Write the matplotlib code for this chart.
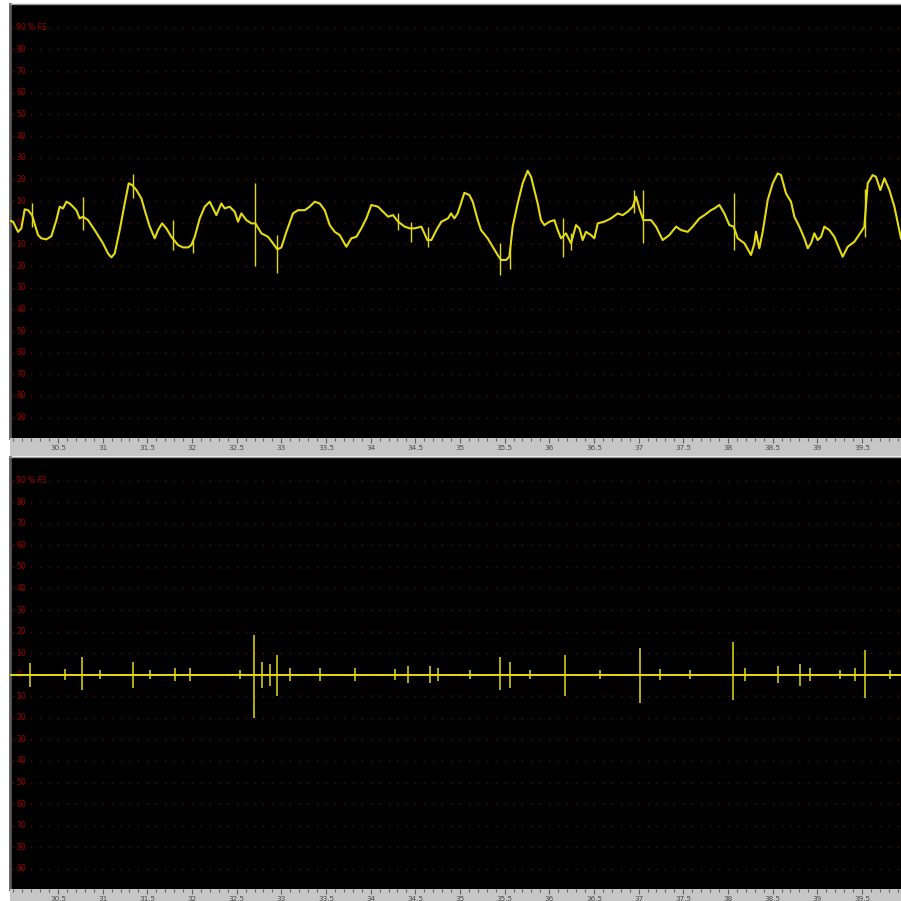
import numpy as np
import matplotlib
matplotlib.use("Agg")
import matplotlib.pyplot as plt
from matplotlib.transforms import blended_transform_factory

# raw channel, % of full scale over time (s)
raw_t = [29.941, 29.997, 30.053, 30.090, 30.128, 30.165, 30.210, 30.277, 30.314, 30.370,
         30.426, 30.482, 30.519, 30.557, 30.594, 30.631, 30.669, 30.706, 30.743, 30.781,
         30.837, 30.911, 31.004, 31.060, 31.098, 31.135, 31.191, 31.247, 31.292, 31.329,
         31.378, 31.434, 31.471, 31.527, 31.583, 31.620, 31.665, 31.713, 31.769, 31.844,
         31.900, 31.956, 31.993, 32.031, 32.087, 32.143, 32.199, 32.236, 32.273, 32.329,
         32.366, 32.422, 32.478, 32.516, 32.553, 32.609, 32.665, 32.710, 32.777, 32.851,
         32.907, 32.956, 33.001, 33.057, 33.131, 33.187, 33.262, 33.318, 33.374, 33.430,
         33.486, 33.542, 33.598, 33.654, 33.728, 33.784, 33.840, 33.896, 33.952, 34.008,
         34.083, 34.139, 34.195, 34.251, 34.307, 34.381, 34.437, 34.493, 34.568, 34.635,
         34.680, 34.736, 34.792, 34.866,
         34.900, 34.937, 34.975, 35.049, 35.105, 35.143, 35.199, 35.236, 35.310, 35.366,
         35.422, 35.460, 35.516, 35.553, 35.590, 35.646, 35.702, 35.758, 35.796, 35.833,
         35.870, 35.907, 35.945, 36.001, 36.057, 36.094, 36.131, 36.187, 36.243, 36.299,
         36.337, 36.374, 36.411, 36.467, 36.504, 36.542, 36.616, 36.691, 36.766, 36.822,
         36.878, 36.934, 36.971, 37.008, 37.053, 37.139, 37.195, 37.269, 37.344, 37.419,
         37.475, 37.549, 37.605, 37.680, 37.736, 37.810, 37.848, 37.904, 37.960, 38.016,
         38.064, 38.109, 38.184, 38.258, 38.296, 38.314, 38.351, 38.389, 38.445, 38.501,
         38.557, 38.594, 38.650, 38.706, 38.743, 38.799, 38.855, 38.893, 38.930, 38.967,
         39.004, 39.042, 39.079, 39.135, 39.191, 39.284, 39.340, 39.415, 39.490, 39.527,
         39.564, 39.620, 39.657, 39.706, 39.751, 39.807, 39.863, 39.937]
raw_v = [1.2, 0.5, -4.2, -2.6, 6.2, 5.8, 3.5, -5.7, -7.2, -7.7,
         -6.2, 1.2, 7.4, 6.6, 9.7, 8.9, 7.4, 5.8, 2.0, 2.8,
         1.2, -3.4, -9.5, -14.2, -16.0, -14.2, -3.4, 8.9, 18.2, 17.4,
         15.1, 11.2, 5.8, -1.8, -7.2, -3.4, -0.3, -2.6, -6.5, -10.3,
         -11.4, -11.4, -10.3, -6.5, 2.0, 7.4, 9.7, 6.6, 3.5, 8.9,
         6.6, 7.4, 5.1, 0.5, 4.3, 1.2, -0.3, -0.3, -4.9, -6.5,
         -9.5, -12.3, -11.4, -4.2, 4.3, 5.8, 5.8, 7.4, 9.7, 8.9,
         5.8, -1.1, -4.2, -5.7, -11.1, -7.2, -6.5, -2.6, 2.0, 8.2,
         7.4, 5.1, 2.8, 3.5, 0.5, -1.8, -2.6, -2.6, -1.8, -8.0,
         -8.0, -3.4, 0.5, 2.0,
         4.3, 2.0, 4.3, 13.8, 12.8, 9.7, 1.2, -3.4, -7.2, -11.1,
         -14.9, -17.2, -17.2, -15.7, -1.8, 8.9, 18.2, 24.0, 21.2, 15.1,
         8.9, 1.2, -1.1, 0.5, 1.2, -3.4, -7.2, -4.9, -9.5, -1.1,
         -2.6, -8.0, -4.2, -5.7, -7.2, -0.3, 0.5, 2.0, 4.3, 3.5,
         5.1, 7.4, 12.0, 6.6, 1.2, 1.2, -1.8, -8.0, -5.7, -1.8,
         -3.4, -4.2, -1.8, 2.0, 3.5, 5.8, 6.6, 8.2, 4.3, -1.1,
         -1.8, -7.2, -9.5, -14.9, -9.5, -4.2, -11.8, -4.2, 10.5, 18.2,
         22.8, 22.0, 13.5, 9.7, 2.8, -1.8, -7.2, -11.8, -9.5, -4.9,
         -8.0, -6.5, -1.8, -3.4, -6.5, -15.7, -11.1, -8.8, -4.2, -1.8,
         18.2, 22.0, 21.2, 15.1, 20.5, 15.1, 7.4, -7.2]

# single-sample glitches on the raw channel
glitch_t = [30.210, 30.781, 31.340, 31.788, 32.012, 32.710, 32.956, 34.307, 34.448, 34.642,
            35.452, 35.564, 36.150, 36.243, 36.945, 37.053, 38.064, 39.534]
glitch_lo = [-1.8, -3.4, 11.2, -12.6, -14.2, -20.0, -23.4, -3.4, -8.8, -11.1,
             -24.2, -21.5, -15.7, -12.6, 4.3, -9.5, -12.6, -6.5]
glitch_hi = [8.9, 12.0, 22.5, 1.2, -8.0, 18.2, -5.7, 4.3, 0.5, -1.8,
             -9.5, -11.1, 2.0, -4.9, 15.1, 15.1, 13.5, 15.8]

# filtered channel: bursts around the zero line
burst_t = [30.187, 30.579, 30.769, 30.970, 31.340, 31.530, 31.810, 31.978, 32.538, 32.694,
           32.784, 32.874, 32.952, 33.098, 33.433, 33.825, 34.273, 34.418, 34.665, 34.754,
           35.112, 35.448, 35.560, 35.784, 36.176, 36.568, 37.016, 37.240, 37.575, 38.057,
           38.191, 38.560, 38.807, 38.919, 39.255, 39.422, 39.534, 39.814]
burst_lo = [-5.5, -2.5, -7.0, -2.0, -6.0, -2.0, -3.0, -3.0, -2.0, -20.0,
            -6.0, -5.0, -10.0, -3.0, -3.0, -3.0, -2.5, -4.0, -4.0, -3.0,
            -2.0, -7.0, -6.0, -2.0, -10.0, -2.0, -13.0, -2.5, -2.0, -11.5,
            -3.0, -4.0, -5.0, -3.0, -2.0, -3.0, -10.6, -2.0]
burst_hi = [5.5, 2.5, 8.0, 2.0, 6.0, 2.0, 3.0, 3.0, 2.0, 18.5,
            6.0, 5.0, 9.0, 3.0, 3.0, 3.0, 2.5, 4.0, 4.0, 3.0,
            2.0, 8.0, 6.0, 2.0, 9.0, 2.0, 12.5, 2.5, 2.0, 15.0,
            3.0, 4.0, 5.0, 3.0, 2.0, 3.0, 11.5, 2.0]

time_ticks = [30.5, 31, 31.5, 32, 32.5, 33, 33.5, 34, 34.5, 35,
              35.5, 36, 36.5, 37, 37.5, 38, 38.5, 39, 39.5]
time_labels = ["30.5", "31", "31.5", "32", "32.5", "33", "33.5", "34", "34.5", "35",
               "35.5", "36", "36.5", "37", "37.5", "38", "38.5", "39", "39.5"]
levels = [90, 80, 70, 60, 50, 40, 30, 20, 10, 0, -10, -20, -30, -40, -50, -60, -70, -80, -90]
level_labels = ["90 % FS", "80", "70", "60", "50", "40", "30", "20", "10", "0",
                "10", "20", "30", "40", "50", "60", "70", "80", "90"]

XLIM = (29.963, 39.937)
YLIM = (-99.4, 101.0)
TRACE = "#e4dc10"
LABEL_RED = "#a00000"
DOT_RED = "#5c0808"
STRIP = "#c6c6c6"

W = H = 901.0
fig = plt.figure(figsize=(9.01, 9.01), dpi=100, facecolor="white")


def px_axes(top, bottom):
    return fig.add_axes([10 / W, 1 - bottom / H, 891 / W, (bottom - top) / H])


def scope_panel(ax):
    ax.set_facecolor("black")
    ax.set_xlim(*XLIM)
    ax.set_ylim(*YLIM)
    ax.set_xticks([])
    ax.set_yticks([])
    for side in ("right", "bottom"):
        ax.spines[side].set_visible(False)
    ax.spines["left"].set_color("#5a5a5a")
    ax.spines["left"].set_linewidth(2.0)
    ax.spines["top"].set_color("#9a9a9a")
    ax.spines["top"].set_linewidth(1.0)

    # dotted level lines, one dot per 0.1 s
    dot_x = np.arange(30.0, XLIM[1], 0.1)
    for lv in levels:
        ax.plot(dot_x, np.full_like(dot_x, lv), ls="none", marker="s",
                ms=1.1, mew=0, color=DOT_RED, zorder=1)

    trans = blended_transform_factory(ax.transAxes, ax.transData)
    for lv, lab in zip(levels, level_labels):
        ax.text(0.007, lv, lab, transform=trans, ha="left", va="center",
                fontsize=5.5, color=LABEL_RED, zorder=2)


def time_strip(ax):
    ax.set_facecolor(STRIP)
    ax.set_xlim(*XLIM)
    ax.set_ylim(0, 1)
    ax.set_yticks([])
    for sp in ax.spines.values():
        sp.set_visible(False)
    ax.set_xticks(time_ticks)
    ax.set_xticks(np.arange(30.0, XLIM[1], 0.1), minor=True)
    ax.tick_params(axis="x", which="both", direction="in", top=True, bottom=False,
                   labelbottom=False, color="#606060", width=0.8)
    ax.tick_params(axis="x", which="major", length=3.5)
    ax.tick_params(axis="x", which="minor", length=2.2)
    for tv, lab in zip(time_ticks, time_labels):
        ax.text(tv, 0.42, lab, ha="center", va="center", fontsize=5.2, color="#4a4a4a")


# upper panel: raw signal
ax_top = px_axes(4, 438)
scope_panel(ax_top)
ax_top.plot(raw_t, raw_v, color=TRACE, lw=1.5, zorder=3)
ax_top.vlines(glitch_t, glitch_lo, glitch_hi, color=TRACE, lw=1.0, zorder=3)
time_strip(px_axes(438, 456))

# lower panel: filtered signal
ax_bot = px_axes(457, 889)
scope_panel(ax_bot)
ax_bot.axhline(0, color=TRACE, lw=1.4, zorder=3)
ax_bot.vlines(burst_t, burst_lo, burst_hi, color=TRACE, lw=1.1, zorder=3)
time_strip(px_axes(889, 907))

fig.savefig("out.png", dpi=100, facecolor="white")
